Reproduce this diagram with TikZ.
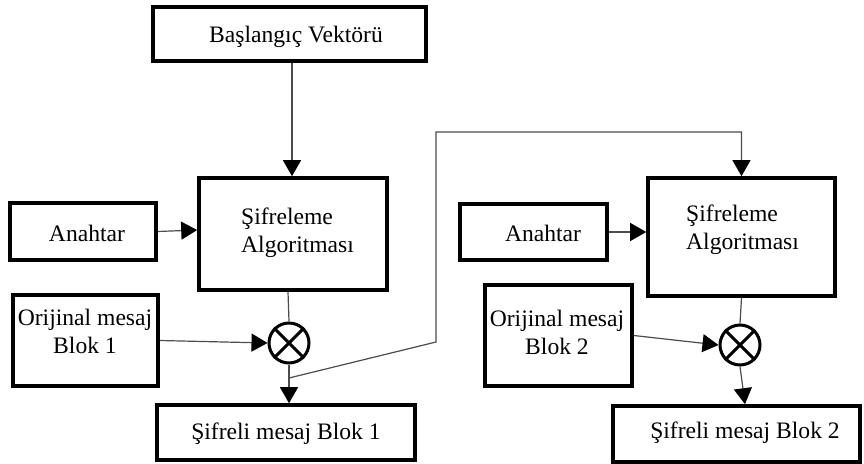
\documentclass[tikz,border=0pt]{standalone}
\usepackage{fontspec}
\setmainfont{Liberation Serif}
\usetikzlibrary{arrows.meta}
\begin{document}
\begin{tikzpicture}[x=1pt,y=-1pt,
  font=\fontsize{23.6}{28}\selectfont,
  box/.style={draw=black,line width=3.6pt,inner sep=0pt,fill=white},
  label/.style={inner sep=0pt,align=center},
  xorgate/.style={draw=black,line width=3pt,circle,minimum size=40pt,inner sep=0pt},
  wire/.style={draw=black!70,line width=1.2pt},
  arr/.style={wire,-{Triangle[length=16pt,width=18pt,fill=black,color=black]}}]
\useasboundingbox (0,0) rectangle (864,463);

% boxes
\node[box,minimum width=273pt,minimum height=54pt] (vek) at (289.5,34) {};
\node[label] (vektxt) at (296,37) {Başlangıç Vektörü};

\node[box,minimum width=188pt,minimum height=112pt] (enc1) at (293,234) {};
\node[label,align=left,anchor=west] (enc1txt) at (241,233) {Şifreleme\\Algoritması};
\node[box,minimum width=146pt,minimum height=57pt] (key1) at (83,231.5) {};
\node[label] (key1txt) at (87,233) {Anahtar};
\node[box,minimum width=145pt,minimum height=91pt] (org1) at (85.5,340.5) {};
\node[label] (org1txt) at (85,331) {Orijinal mesaj\\Blok 1};
\node[xorgate] (xor1) at (289,343) {};
\node[box,minimum width=258pt,minimum height=55pt] (out1) at (286,432.5) {};
\node[label] (out1txt) at (286,434) {Şifreli mesaj Blok 1};

\node[box,minimum width=187pt,minimum height=118pt] (enc2) at (741.5,237) {};
\node[label,align=left,anchor=west] (enc2txt) at (686,230) {Şifreleme\\Algoritması};
\node[box,minimum width=147pt,minimum height=56pt] (key2) at (533.5,232) {};
\node[label] (key2txt) at (543,233) {Anahtar};
\node[box,minimum width=147pt,minimum height=101pt] (org2) at (558.5,335.5) {};
\node[label] (org2txt) at (557,332) {Orijinal mesaj\\Blok 2};
\node[xorgate] (xor2) at (740,345) {};
\node[box,minimum width=247pt,minimum height=56pt] (out2) at (736.5,434) {};
\node[label] (out2txt) at (745,433) {Şifreli mesaj Blok 2};

% XOR crosses
\foreach \g in {xor1,xor2}{
  \draw[line width=3pt] (\g.north west) -- (\g.south east);
  \draw[line width=3pt] (\g.north east) -- (\g.south west);
}

% connectors, first stage
\draw[arr] (vek.south -| 292,0) -- (enc1.north -| 292,0);
\draw[arr] (key1.east) -- ([yshift=4pt]enc1.west);
\draw[wire] (enc1.south -| 288,0) -- (xor1.north);
\draw[arr] (org1.east) -- (xor1.west);
\draw[arr] (xor1.south) -- (out1.north -| xor1.south);

% chaining of the first output into the second stage
\coordinate (tap) at (289,378);
\draw[arr] (tap) -- (436,342) -- (436,132) -| (enc2.north);

% connectors, second stage
\draw[arr] (key2.east) -- (enc2.west |- key2.east);
\draw[wire] (enc2.south) -- (xor2.north);
\draw[arr] (org2.east) -- (xor2.west);
\draw[arr] (xor2.south) -- (out2.north -| 745,0);
\end{tikzpicture}
\end{document}
